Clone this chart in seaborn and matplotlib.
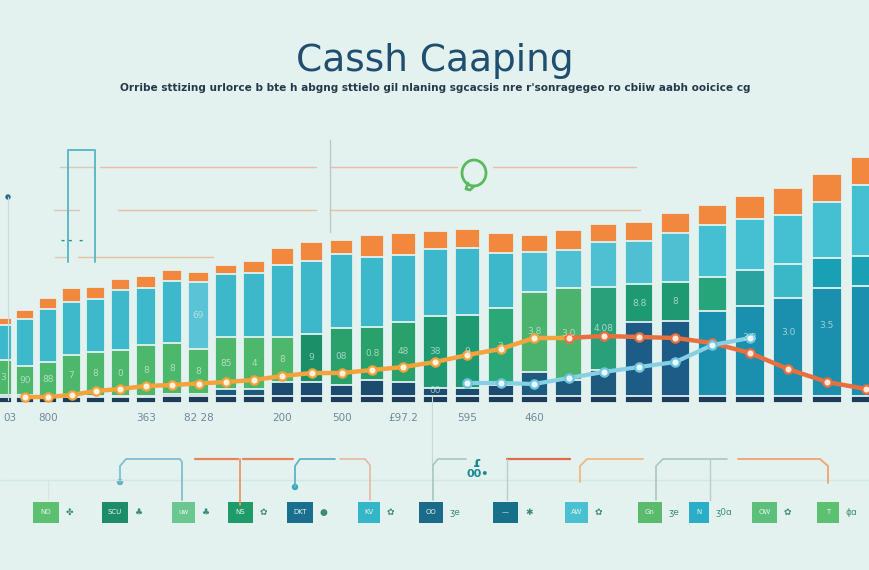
import numpy as np
import pandas as pd
import seaborn as sns
import matplotlib
matplotlib.use("Agg")
import matplotlib.pyplot as plt
from matplotlib.lines import Line2D
from matplotlib.patches import Rectangle, Ellipse

# ---------------- data ----------------
period = list(range(29))
base_seg   = [6, 6, 6, 6, 6, 6, 6, 7, 7, 7, 7, 7, 7, 7, 7, 7, 7, 7, 7, 7, 7, 7, 7, 7, 7, 7, 7, 7, 7]
dark_seg   = [2, 2, 1, 1, 1, 1, 1, 2, 2, 7, 7, 14, 14, 11, 16, 14, 8, 8, 11, 24, 16, 26, 74, 75, 85, 90, 98, 108, 110]
green_seg  = [35, 29, 34, 41, 44, 46, 51, 51, 45, 52, 52, 45, 48, 57, 53, 60, 72, 73, 77, 80, 92, 83, 38, 39, 34, 36, 34, 30, 30]
teal_seg   = [35, 47, 53, 53, 53, 60, 57, 62, 67, 63, 64, 72, 73, 74, 70, 67, 67, 67, 55, 40, 38, 45, 43, 49, 52, 51, 49, 56, 71]
orange_seg = [7, 9, 11, 14, 12, 11, 12, 11, 10, 9, 12, 17, 19, 14, 22, 22, 18, 19, 20, 17, 20, 18, 19, 20, 20, 23, 27, 28, 28]

nan = np.nan
orange_line = [nan, 6, 6, 8, 12, 14, 17, 18, 19.5, 21, 23, 27, 30, 30, 33, 36, 41, 48, 54, 65, 65, 67, 66, 65, 60, 50, 34, 21, 14]
blue_line = [nan] * 17 + [20, 20, 19, 25, 31, 36, 41, 58, 65] + [nan] * 3

tick_pos = [0, 2, 6, 8, 11, 13, 15, 17, 19]
tick_labels = ["03", "800", "363", "82 28", "200", "500", "£97.2", "595", "460"]

# (bar, layer, text)
bar_notes = [(0, "green", "3"), (1, "green", "90"), (2, "green", "88"), (3, "green", "7"),
             (4, "green", "8"), (5, "green", "0"), (6, "green", "8"), (7, "green", "8"),
             (8, "teal", "69"), (8, "green", "8"), (9, "green", "85"), (10, "green", "4"),
             (11, "green", "8"), (12, "green", "9"), (13, "green", "08"), (14, "green", "0.8"),
             (15, "green", "48"), (16, "green", "38"), (16, "dark", "00"), (17, "green", "9"),
             (18, "green", "3"), (19, "green", "3.8"), (20, "green", "3.0"), (21, "green", "4.08"),
             (22, "green", "8.8"), (23, "green", "8"), (25, "dark", "3.8"), (26, "dark", "3.0"),
             (27, "dark", "3.5")]

title = "Cassh Caaping"
subtitle = ("Orribe sttizing urlorce b bte h abgng sttielo gil nlaning sgcacsis nre r'sonragegeo "
            "ro cbiiw aabh ooicice cg")

# bottom strip: (x0, x1, colour, label, icon)
chips = [(33, 59, "#5cc070", "NO", "✤"), (102, 128, "#1e8c68", "SCU", "♣"),
         (172, 195, "#6cc690", "uw", "♣"), (228, 253, "#1f9a6a", "NS", "✿"),
         (287, 313, "#1a6e8e", "DKT", "●"), (358, 380, "#35b5c8", "KV", "✿"),
         (419, 443, "#1b6a8a", "OO", "ʒe"), (493, 518, "#17708a", "—", "✱"),
         (565, 588, "#4bc0d0", "AW", "✿"), (638, 662, "#5cba6e", "Gn", "ʒe"),
         (689, 709, "#2aaec8", "N", "ʒ0ɑ"), (752, 777, "#5dc07a", "OW", "✿"),
         (817, 839, "#5cc070", "T", "ɸɑ")]

# ---------------- styles ----------------
BG = "#e3f2ef"
orange_cols = ["#f2883e"] * 29
teal_cols = (["#3db9cb"] * 8 + ["#5ac4d6"] + ["#3db8cb"] * 10 + ["#4fc0d2"] * 5
             + ["#45bfd2"] * 5)
green_cols = (["#4db86b"] * 12 + ["#1b9068", "#2aa06a", "#2aa06a", "#2aa06a", "#1d9a72", "#1d9a72",
              "#2aa877", "#4cb36e", "#4cb36e", "#2aa07a", "#1e9a72", "#1e9a72", "#27a57a",
              "#2aa3a0", "#3ab8c8", "#1aa0b5", "#1aa0b5"])
dark_cols = (["#1d5b7c"] * 11 + ["#1c4b70"] * 8 + ["#1e5a7e"] * 3 + ["#1c5c86"] * 2
             + ["#1b8fae"] * 5)
base_col = "#1d3c5c"

W, H = 870, 570
sns.set_theme(style="white")
plt.rcParams["font.family"] = ["DejaVu Sans"]
fig = plt.figure(figsize=(W / 100, H / 100), dpi=100, facecolor=BG)

ax = fig.add_axes([0, (H - 403) / H, 1, (403 - 140) / H])
ax.set_facecolor("none")

df = pd.DataFrame({"period": period, "base": base_seg, "dark": dark_seg, "green": green_seg,
                   "teal": teal_seg, "orange": orange_seg})
df["c_base"] = df["base"]
df["c_dark"] = df["c_base"] + df["dark"]
df["c_green"] = df["c_dark"] + df["green"]
df["c_teal"] = df["c_green"] + df["teal"]
df["c_orange"] = df["c_teal"] + df["orange"]

layers = [("c_orange", orange_cols), ("c_teal", teal_cols), ("c_green", green_cols),
          ("c_dark", dark_cols), ("c_base", [base_col] * 29)]
for col, cols in layers:
    sns.barplot(data=df, x="period", y=col, hue="period", palette=cols, legend=False,
                width=0.78, edgecolor=BG, linewidth=1.3, saturation=1, ax=ax)

# lines
sns.lineplot(x=np.arange(29)[:21], y=orange_line[:21], color="#f4a23c", lw=3.2, ax=ax,
             marker="o", markersize=6, markerfacecolor="#fff4e0", markeredgecolor="#f4a23c",
             markeredgewidth=1.6)
sns.lineplot(x=np.arange(29)[20:], y=orange_line[20:], color="#e9703e", lw=3.2, ax=ax,
             marker="o", markersize=6, markerfacecolor="#ffe8dc", markeredgecolor="#e9703e",
             markeredgewidth=1.6)
sns.lineplot(x=np.arange(29), y=blue_line, color="#86d0e6", lw=3.0, ax=ax,
             marker="o", markersize=6, markerfacecolor="#eefaff", markeredgecolor="#6cc5e0",
             markeredgewidth=1.6)

# notes inside bars
low = {"base": "c_base", "dark": "c_base", "green": "c_dark", "teal": "c_green"}
high = {"base": "c_base", "dark": "c_dark", "green": "c_green", "teal": "c_teal"}
for b, layer, txt in bar_notes:
    y = (df.loc[b, low[layer]] + df.loc[b, high[layer]]) / 2
    if layer == "dark":
        y = df.loc[b, "c_dark"] - 0.35 * df.loc[b, "dark"]
    ax.text(b, y, txt, ha="center", va="center", fontsize=6.5, color="#d6efe6", alpha=0.7)

# non-linear horizontal scale (bars get wider towards the right)
A, B = 21.9, 0.319
def fwd(i):
    i = np.asarray(i, float)
    return 3 + A * i + B * i ** 2
def inv(p):
    p = np.asarray(p, float)
    return (-A + np.sqrt(np.maximum(A * A + 4 * B * (p - 3), 0))) / (2 * B)
ax.set_xscale("function", functions=(fwd, inv))
ax.set_xlim(float(inv(0)), float(inv(W)))
ax.set_ylim(0, 263)
ax.set_xticks(tick_pos)
ax.set_xticklabels(tick_labels)
ax.get_xticklabels()[0].set_horizontalalignment("left")
ax.set_yticks([])
ax.set_xlabel("")
ax.set_ylabel("")
ax.tick_params(axis="x", length=0, pad=7, labelsize=7.5, labelcolor="#6f8a96")
for s in ax.spines.values():
    s.set_visible(False)

# ---------------- decorations in pixel space ----------------
def fx(x):
    return x / W
def fy(y):
    return 1 - y / H
def pline(xs, ys, **kw):
    fig.add_artist(Line2D([fx(x) for x in xs], [fy(y) for y in ys],
                          transform=fig.transFigure, solid_capstyle="round",
                          solid_joinstyle="round", **kw))

fig.text(0.5, fy(61), title, ha="center", va="center", fontsize=27, color="#1f4e6e")
fig.text(0.5, fy(88), subtitle, ha="center", va="center", fontsize=7.6, color="#25394a",
         fontweight="semibold")

faint = "#e9bda6"
for xs, y in [((100, 316), 167), ((330, 457), 167), ((493, 636), 167),
              ((118, 316), 210), ((330, 640), 210), ((78, 213), 257)]:
    pline(xs, (y, y), color=faint, lw=1.0)
for xs, y in [((60, 95), 167), ((54, 79), 210), ((55, 66), 257)]:
    pline(xs, (y, y), color="#d8c8bc", lw=1.0)
pline((68, 68, 95, 95), (262, 150, 150, 262), color="#5bbac6", lw=1.4)
pline((330, 330), (140, 232), color="#b9c9c7", lw=1.0)
pline((8, 8), (197, 400), color="#c9dcd9", lw=0.8)
fig.add_artist(Ellipse((fx(8), fy(197)), 4 / W, 4 / H, transform=fig.transFigure,
                       color="#2a6e8a"))
fig.text(fx(72), fy(241), "- -  -", ha="center", va="center", fontsize=7, color="#2a8a9a",
         fontweight="bold")
fig.add_artist(Ellipse((fx(474), fy(173)), 24 / W, 26 / H, transform=fig.transFigure,
                       fill=False, ec="#5cb85c", lw=2))
pline((468, 466, 470, 474), (183, 189, 190, 186), color="#5cb85c", lw=2)

pline((432, 432), (395, 470), color="#c8dad7", lw=0.8)
pline((0, W), (480, 480), color="#d3e7e3", lw=1.0)
pline((48, 48), (480, 500), color="#d3e7e3", lw=0.8)

# connectors
pline((120, 120, 126, 180, 182, 182), (482, 466, 459, 459, 462, 500), color="#7ec0d0", lw=1.3)
pline((195, 238), (459, 459), color="#e8845c", lw=1.6)
pline((240, 240), (459, 505), color="#e8946c", lw=1.3)
pline((243, 293), (459, 459), color="#e8845c", lw=1.6)
pline((295, 295, 300, 335), (487, 466, 459, 459), color="#5ab4c8", lw=1.3)
pline((340, 365, 370, 370), (459, 459, 465, 500), color="#e8b8a0", lw=1.2)
pline((433, 433, 438, 466), (500, 465, 459, 459), color="#a8c4c0", lw=1.2)
pline((507, 570), (459, 459), color="#e06a4a", lw=1.6)
pline((507, 507), (459, 500), color="#b8cfcb", lw=1.0)
pline((580, 580, 587, 643), (482, 466, 459, 459), color="#f0b880", lw=1.3)
pline((656, 656, 663, 727), (500, 466, 459, 459), color="#a8c8b8", lw=1.2)
pline((710, 710), (459, 500), color="#b8cfcb", lw=1.0)
pline((738, 820, 828, 828), (459, 459, 466, 483), color="#f0a878", lw=1.4)
for (x, y, c) in [(120, 482, "#5ab4c8"), (295, 487, "#3aa8c0")]:
    fig.add_artist(Ellipse((fx(x), fy(y)), 5 / W, 5 / H, transform=fig.transFigure, color=c))
fig.text(fx(477), fy(463), "ɾ", ha="center", va="center", fontsize=10, color="#1a8a8e",
         fontweight="bold")
fig.text(fx(478), fy(474), "00•", ha="center", va="center", fontsize=8, color="#1a8a8e",
         fontweight="bold")

for x0, x1, c, lab, icon in chips:
    fig.add_artist(Rectangle((fx(x0), fy(523)), (x1 - x0) / W, 21 / H,
                             transform=fig.transFigure, fc=c, ec="none"))
    fig.text(fx((x0 + x1) / 2), fy(512.5), lab, ha="center", va="center", fontsize=5,
             color="#e6f6ef")
    fig.text(fx(x1 + 7), fy(512.5), icon, ha="left", va="center", fontsize=6.5,
             color="#3a8a7a")

fig.savefig("out.png", dpi=100, facecolor=BG)
